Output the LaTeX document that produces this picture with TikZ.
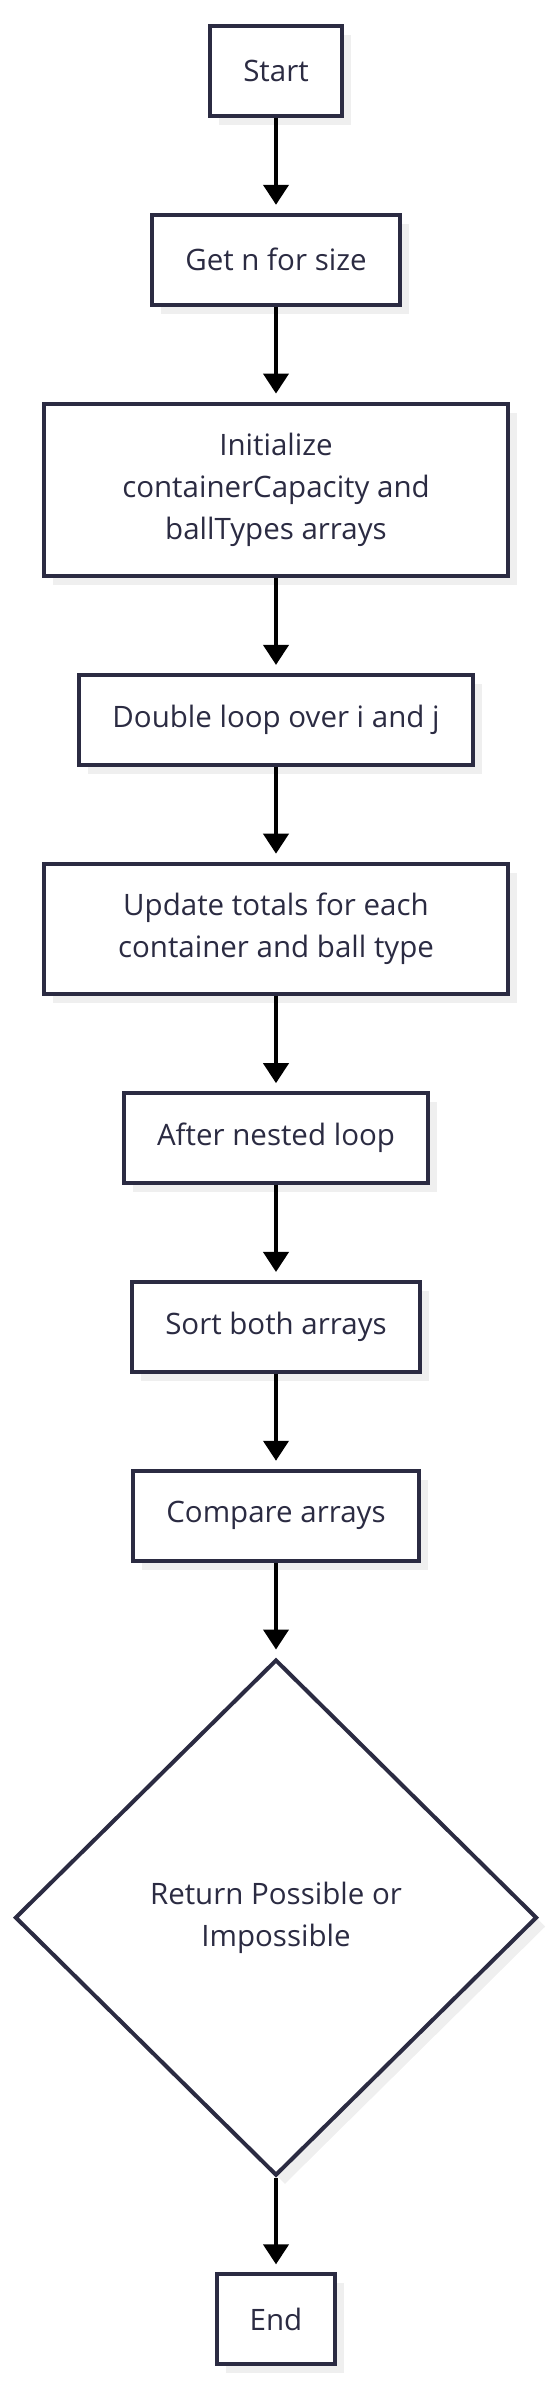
\documentclass[tikz,border=0pt]{standalone}
\usepackage{fontspec}
\setmainfont{Open Sans}
\usetikzlibrary{positioning,shapes.geometric,arrows.meta,shadows}
\definecolor{boxline}{HTML}{2B2B42}
\definecolor{shadowgray}{HTML}{EFEFEF}
\tikzset{
  procbox/.style={draw=boxline, line width=4pt, fill=white, text=boxline,
    align=center, inner xsep=33pt, inner ysep=29.5pt, minimum height=90pt,
    font=\fontsize{29.5}{42}\selectfont,
    drop shadow={shadow xshift=9pt, shadow yshift=-9pt, fill=shadowgray, opacity=1}},
  widebox/.style={procbox, minimum width=464pt},
  decbox/.style={procbox, diamond, aspect=1.01, inner sep=0pt, minimum width=522pt, minimum height=516pt},
  flowarrow/.style={line width=4pt, -{Triangle[width=25pt,length=20pt]}, shorten >=8pt}
}
\begin{document}
\begin{tikzpicture}[node distance=94.8pt]
\useasboundingbox (0,0) rectangle (552pt,-2388pt);
\node[procbox] (start) at (276pt,-71pt) {Start};
\node[procbox, below=of start] (getn) {Get n for size};
\node[widebox, below=of getn] (init) {Initialize\\containerCapacity and\\ballTypes arrays};
\node[procbox, below=of init] (loop) {Double loop over i and j};
\node[widebox, below=of loop] (update) {Update totals for each\\container and ball type};
\node[procbox, below=of update] (after) {After nested loop};
\node[procbox, below=of after] (sort) {Sort both arrays};
\node[procbox, below=of sort] (compare) {Compare arrays};
\node[decbox, below=of compare] (result) {Return Possible or\\Impossible};
\node[procbox, below=of result] (stop) {End};
\foreach \a/\b in {start/getn, getn/init, init/loop, loop/update, update/after,
  after/sort, sort/compare, compare/result, result/stop}
  \draw[flowarrow] (\a) -- (\b);
\end{tikzpicture}
\end{document}
